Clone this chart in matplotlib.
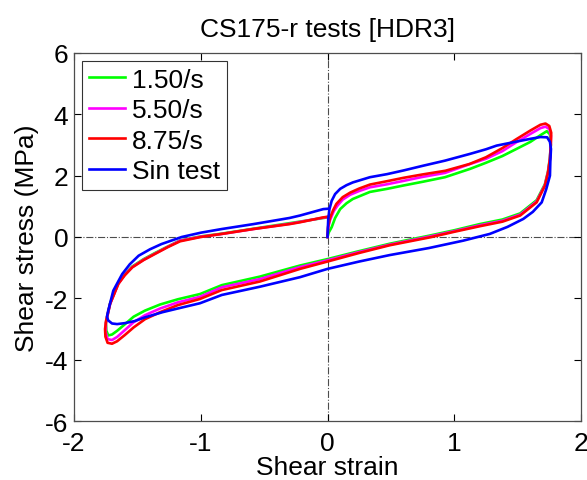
import matplotlib
matplotlib.use("Agg")
import matplotlib.pyplot as plt

plt.rcParams['font.family'] = ['Liberation Sans', 'DejaVu Sans']
plt.rcParams['axes.unicode_minus'] = False

title = "CS175-r tests [HDR3]"
xlabel = "Shear strain"
ylabel = "Shear stress (MPa)"
labels = ["1.50/s", "5.50/s", "8.75/s", "Sin test"]
colors = ["#00ff00", "#ff00ff", "#ff0000", "#0000ff"]
xticks = [-2, -1, 0, 1, 2]
yticks = [-6, -4, -2, 0, 2, 4, 6]

# 1.50/s
green_x = [0.000, 0.010, 0.033, 0.060, 0.100, 0.150, 0.200, 0.335, 0.470, 0.600, 0.750, 0.927,
           1.124, 1.250, 1.380, 1.490, 1.600, 1.680, 1.730, 1.755, 1.762, 1.755, 1.740, 1.715,
           1.650, 1.520, 1.380, 1.200, 1.000, 0.810, 0.490, 0.250, 0.000, -0.217, -0.532,
           -0.834, -1.006, -1.180, -1.320, -1.440, -1.530, -1.600, -1.660, -1.700, -1.730,
           -1.745, -1.748, -1.715, -1.650, -1.600, -1.540, -1.450, -1.360, -1.260, -1.163,
           -1.000, -0.834, -0.585, -0.300, -0.033, 0.000]
green_y = [0.00, 0.15, 0.32, 0.62, 0.91, 1.10, 1.24, 1.47, 1.57, 1.68, 1.80, 1.95,
           2.22, 2.42, 2.64, 2.87, 3.10, 3.32, 3.45, 3.35, 3.00, 2.60, 2.15, 1.72,
           1.20, 0.77, 0.57, 0.42, 0.22, 0.05, -0.22, -0.46, -0.72, -0.93, -1.29,
           -1.57, -1.86, -2.03, -2.20, -2.40, -2.60, -2.85, -3.06, -3.18, -3.21,
           -3.05, -2.80, -2.16, -1.50, -1.22, -0.96, -0.72, -0.52, -0.31, -0.11,
           0.02, 0.11, 0.27, 0.45, 0.62, 0.64]

# 5.50/s
mag_x = [0.000, 0.005, 0.020, 0.050, 0.080, 0.120, 0.180, 0.250, 0.335, 0.470, 0.600, 0.750,
         0.927, 1.124, 1.250, 1.380, 1.490, 1.600, 1.680, 1.720, 1.750, 1.763, 1.760, 1.755,
         1.740, 1.715, 1.650, 1.520, 1.380, 1.200, 1.000, 0.810, 0.490, 0.250, 0.000,
         -0.217, -0.532, -0.834, -1.006, -1.180, -1.320, -1.440, -1.530, -1.600, -1.660,
         -1.700, -1.735, -1.750, -1.748, -1.715, -1.650, -1.600, -1.540, -1.450, -1.360,
         -1.260, -1.163, -1.000, -0.834, -0.585, -0.300, -0.033, 0.000]
mag_y = [0.00, 0.30, 0.55, 0.85, 1.03, 1.22, 1.38, 1.50, 1.62, 1.72, 1.83, 1.96,
         2.09, 2.38, 2.55, 2.80, 3.09, 3.36, 3.55, 3.60, 3.52, 3.30, 2.95, 2.55,
         2.12, 1.69, 1.16, 0.73, 0.53, 0.38, 0.19, 0.02, -0.25, -0.49, -0.76,
         -0.98, -1.37, -1.64, -1.95, -2.13, -2.33, -2.55, -2.78, -3.04, -3.26,
         -3.36, -3.33, -3.10, -2.80, -2.18, -1.52, -1.24, -0.98, -0.74, -0.54,
         -0.32, -0.12, 0.01, 0.10, 0.26, 0.43, 0.63, 0.65]

# 8.75/s
red_x = [0.000, 0.005, 0.020, 0.045, 0.070, 0.120, 0.180, 0.250, 0.335, 0.470, 0.600, 0.750,
         0.930, 1.120, 1.250, 1.380, 1.490, 1.600, 1.680, 1.720, 1.750, 1.765, 1.762, 1.755,
         1.740, 1.715, 1.650, 1.520, 1.380, 1.200, 1.000, 0.810, 0.490, 0.250, 0.000,
         -0.217, -0.532, -0.834, -1.006, -1.180, -1.320, -1.440, -1.530, -1.600, -1.660,
         -1.700, -1.735, -1.752, -1.755, -1.747, -1.715, -1.650, -1.600, -1.540, -1.450,
         -1.360, -1.260, -1.163, -1.000, -0.834, -0.585, -0.300, -0.217, -0.033, 0.000]
red_y = [0.00, 0.35, 0.62, 0.88, 1.08, 1.30, 1.45, 1.58, 1.71, 1.82, 1.93, 2.04,
         2.16, 2.38, 2.60, 2.90, 3.19, 3.47, 3.66, 3.70, 3.62, 3.40, 3.00, 2.54,
         2.10, 1.67, 1.13, 0.70, 0.50, 0.35, 0.17, -0.01, -0.27, -0.52, -0.80,
         -1.04, -1.45, -1.73, -2.02, -2.22, -2.45, -2.68, -2.95, -3.20, -3.40,
         -3.48, -3.45, -3.25, -3.00, -2.73, -2.18, -1.53, -1.25, -0.99, -0.75,
         -0.55, -0.33, -0.14, 0.00, 0.10, 0.26, 0.42, 0.48, 0.64, 0.66]

# Sin test
blue_x = [0.000, 0.003, 0.006, 0.015, 0.033, 0.060, 0.100, 0.150, 0.200, 0.335, 0.470, 0.600,
          0.750, 0.927, 1.124, 1.250, 1.334, 1.490, 1.600, 1.680, 1.733, 1.755, 1.763, 1.758,
          1.755, 1.725, 1.690, 1.620, 1.545, 1.420, 1.280, 1.070, 0.800, 0.490, 0.250, 0.000,
          -0.217, -0.532, -0.834, -1.006, -1.180, -1.300, -1.440, -1.520, -1.600, -1.660,
          -1.700, -1.730, -1.740, -1.730, -1.690, -1.620, -1.560, -1.490, -1.400, -1.310,
          -1.150, -1.000, -0.834, -0.585, -0.300, -0.217, -0.033, 0.000]
blue_y = [0.00, 0.30, 0.59, 0.90, 1.18, 1.40, 1.57, 1.69, 1.78, 1.95, 2.05, 2.17,
          2.32, 2.49, 2.71, 2.86, 2.98, 3.11, 3.20, 3.26, 3.25, 3.10, 2.87, 2.45,
          2.00, 1.55, 1.13, 0.82, 0.59, 0.33, 0.10, -0.12, -0.36, -0.59, -0.80, -1.04,
          -1.31, -1.62, -1.89, -2.16, -2.33, -2.45, -2.62, -2.74, -2.81, -2.84,
          -2.82, -2.72, -2.60, -2.40, -1.75, -1.21, -0.89, -0.61, -0.40, -0.23,
          0.00, 0.14, 0.26, 0.42, 0.62, 0.70, 0.91, 0.92]

series_x = [green_x, mag_x, red_x, blue_x]
series_y = [green_y, mag_y, red_y, blue_y]

fig = plt.figure(figsize=(5.87, 4.81), dpi=100)
ax = fig.add_axes([74/587, 1-422/481, (581-74)/587, (422-54)/481])

ax.axhline(0, color='0.3', linestyle='-.', linewidth=0.8, zorder=1)
ax.axvline(0, color='0.3', linestyle='-.', linewidth=0.8, zorder=1)

for xs, ys, c, lab in zip(series_x, series_y, colors, labels):
    ax.plot(xs, ys, color=c, linewidth=1.9, label=lab, zorder=2)

ax.set_xlim(-2, 2)
ax.set_ylim(-6, 6)
ax.set_xticks(xticks)
ax.set_yticks(yticks)
ax.tick_params(direction='in', top=True, right=True, length=5, width=0.8,
               labelsize=19, colors='black')
ax.tick_params(axis='x', pad=7)
ax.tick_params(axis='y', pad=4)
for s in ax.spines.values():
    s.set_color('0.3')
    s.set_linewidth(0.9)

ax.set_title(title, fontsize=19, pad=12)
ax.set_xlabel(xlabel, fontsize=19, labelpad=0)
ax.set_ylabel(ylabel, fontsize=19, labelpad=4)

leg = ax.legend(loc='upper left', fontsize=19, frameon=True, fancybox=False,
                edgecolor='black', handlelength=1.4, handletextpad=0.25,
                borderpad=0.25, labelspacing=0.25, borderaxespad=0.3)
leg.get_frame().set_linewidth(0.8)

fig.savefig("out.png", dpi=100)
